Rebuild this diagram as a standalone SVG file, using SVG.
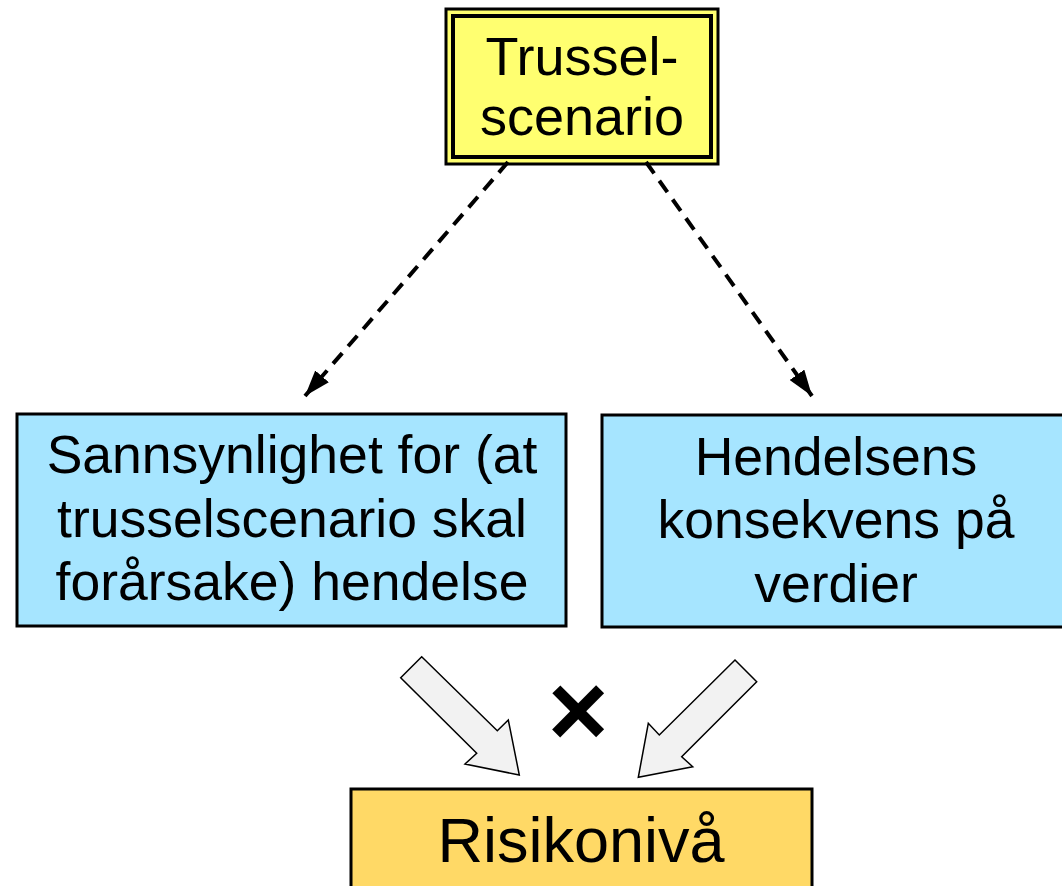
<svg xmlns="http://www.w3.org/2000/svg" width="1062" height="886" viewBox="0 0 1062 886">
  <defs>
    <style>
      .lbl { font-family: "Liberation Sans", Arial, sans-serif; fill: #000; text-anchor: middle; }
      .box { stroke: #000; stroke-width: 3; }
      .dash { fill: none; stroke: #000; stroke-width: 4; stroke-dasharray: 14 9; }
      .block { fill: #f2f2f2; stroke: #000; stroke-width: 1.5; stroke-linejoin: miter; }
    </style>
    <marker id="head" viewBox="0 0 26 18" refX="26" refY="9" markerWidth="26" markerHeight="18" markerUnits="userSpaceOnUse" orient="auto">
      <path d="M0,0 L26,9 L0,18 Z" fill="#000"/>
    </marker>
  </defs>
  <rect width="1062" height="886" fill="#fff"/>

  <!-- threat scenario: double border -->
  <g id="trusselscenario">
    <rect x="446" y="9" width="272" height="155" fill="#ffff70" stroke="#000" stroke-width="3"/>
    <rect x="453" y="16" width="258" height="141" fill="#ffff70" stroke="#000" stroke-width="4"/>
    <text class="lbl" x="582" y="75" font-size="54">Trussel-</text>
    <text class="lbl" x="582" y="135" font-size="54">scenario</text>
  </g>

  <g id="sannsynlighet">
    <rect class="box" x="17" y="414" width="549" height="212" fill="#a6e5ff"/>
    <text class="lbl" x="292" y="473" font-size="53.5">Sannsynlighet for (at</text>
    <text class="lbl" x="292" y="537" font-size="53.5">trusselscenario skal</text>
    <text class="lbl" x="292" y="600" font-size="53.5">forårsake) hendelse</text>
  </g>

  <g id="konsekvens">
    <rect class="box" x="602" y="415" width="470" height="212" fill="#a6e5ff"/>
    <text class="lbl" x="836" y="475" font-size="53.5">Hendelsens</text>
    <text class="lbl" x="836" y="538" font-size="53.5">konsekvens på</text>
    <text class="lbl" x="836" y="602" font-size="53.5">verdier</text>
  </g>

  <g id="risikoniva">
    <rect class="box" x="351" y="789" width="461" height="110" fill="#ffd966"/>
    <text class="lbl" x="581" y="862" font-size="63">Risikonivå</text>
  </g>

  <g id="connectors">
    <path class="dash" d="M508,162 L305,396" marker-end="url(#head)"/>
    <path class="dash" d="M646,162 L812,396" marker-end="url(#head)"/>
    <polygon class="block" points="421.7,656.7 400.7,677.7 476.7,753.3 465,764 519.3,775 508.3,720 497.3,730.7"/>
    <polygon class="block" points="735,660 756.7,681.7 681.7,756.7 692.7,766.7 638.3,777.3 648.3,723.3 659.3,735"/>
  </g>

  <text class="lbl" x="578" y="746" font-size="104" font-weight="bold">×</text>
</svg>
